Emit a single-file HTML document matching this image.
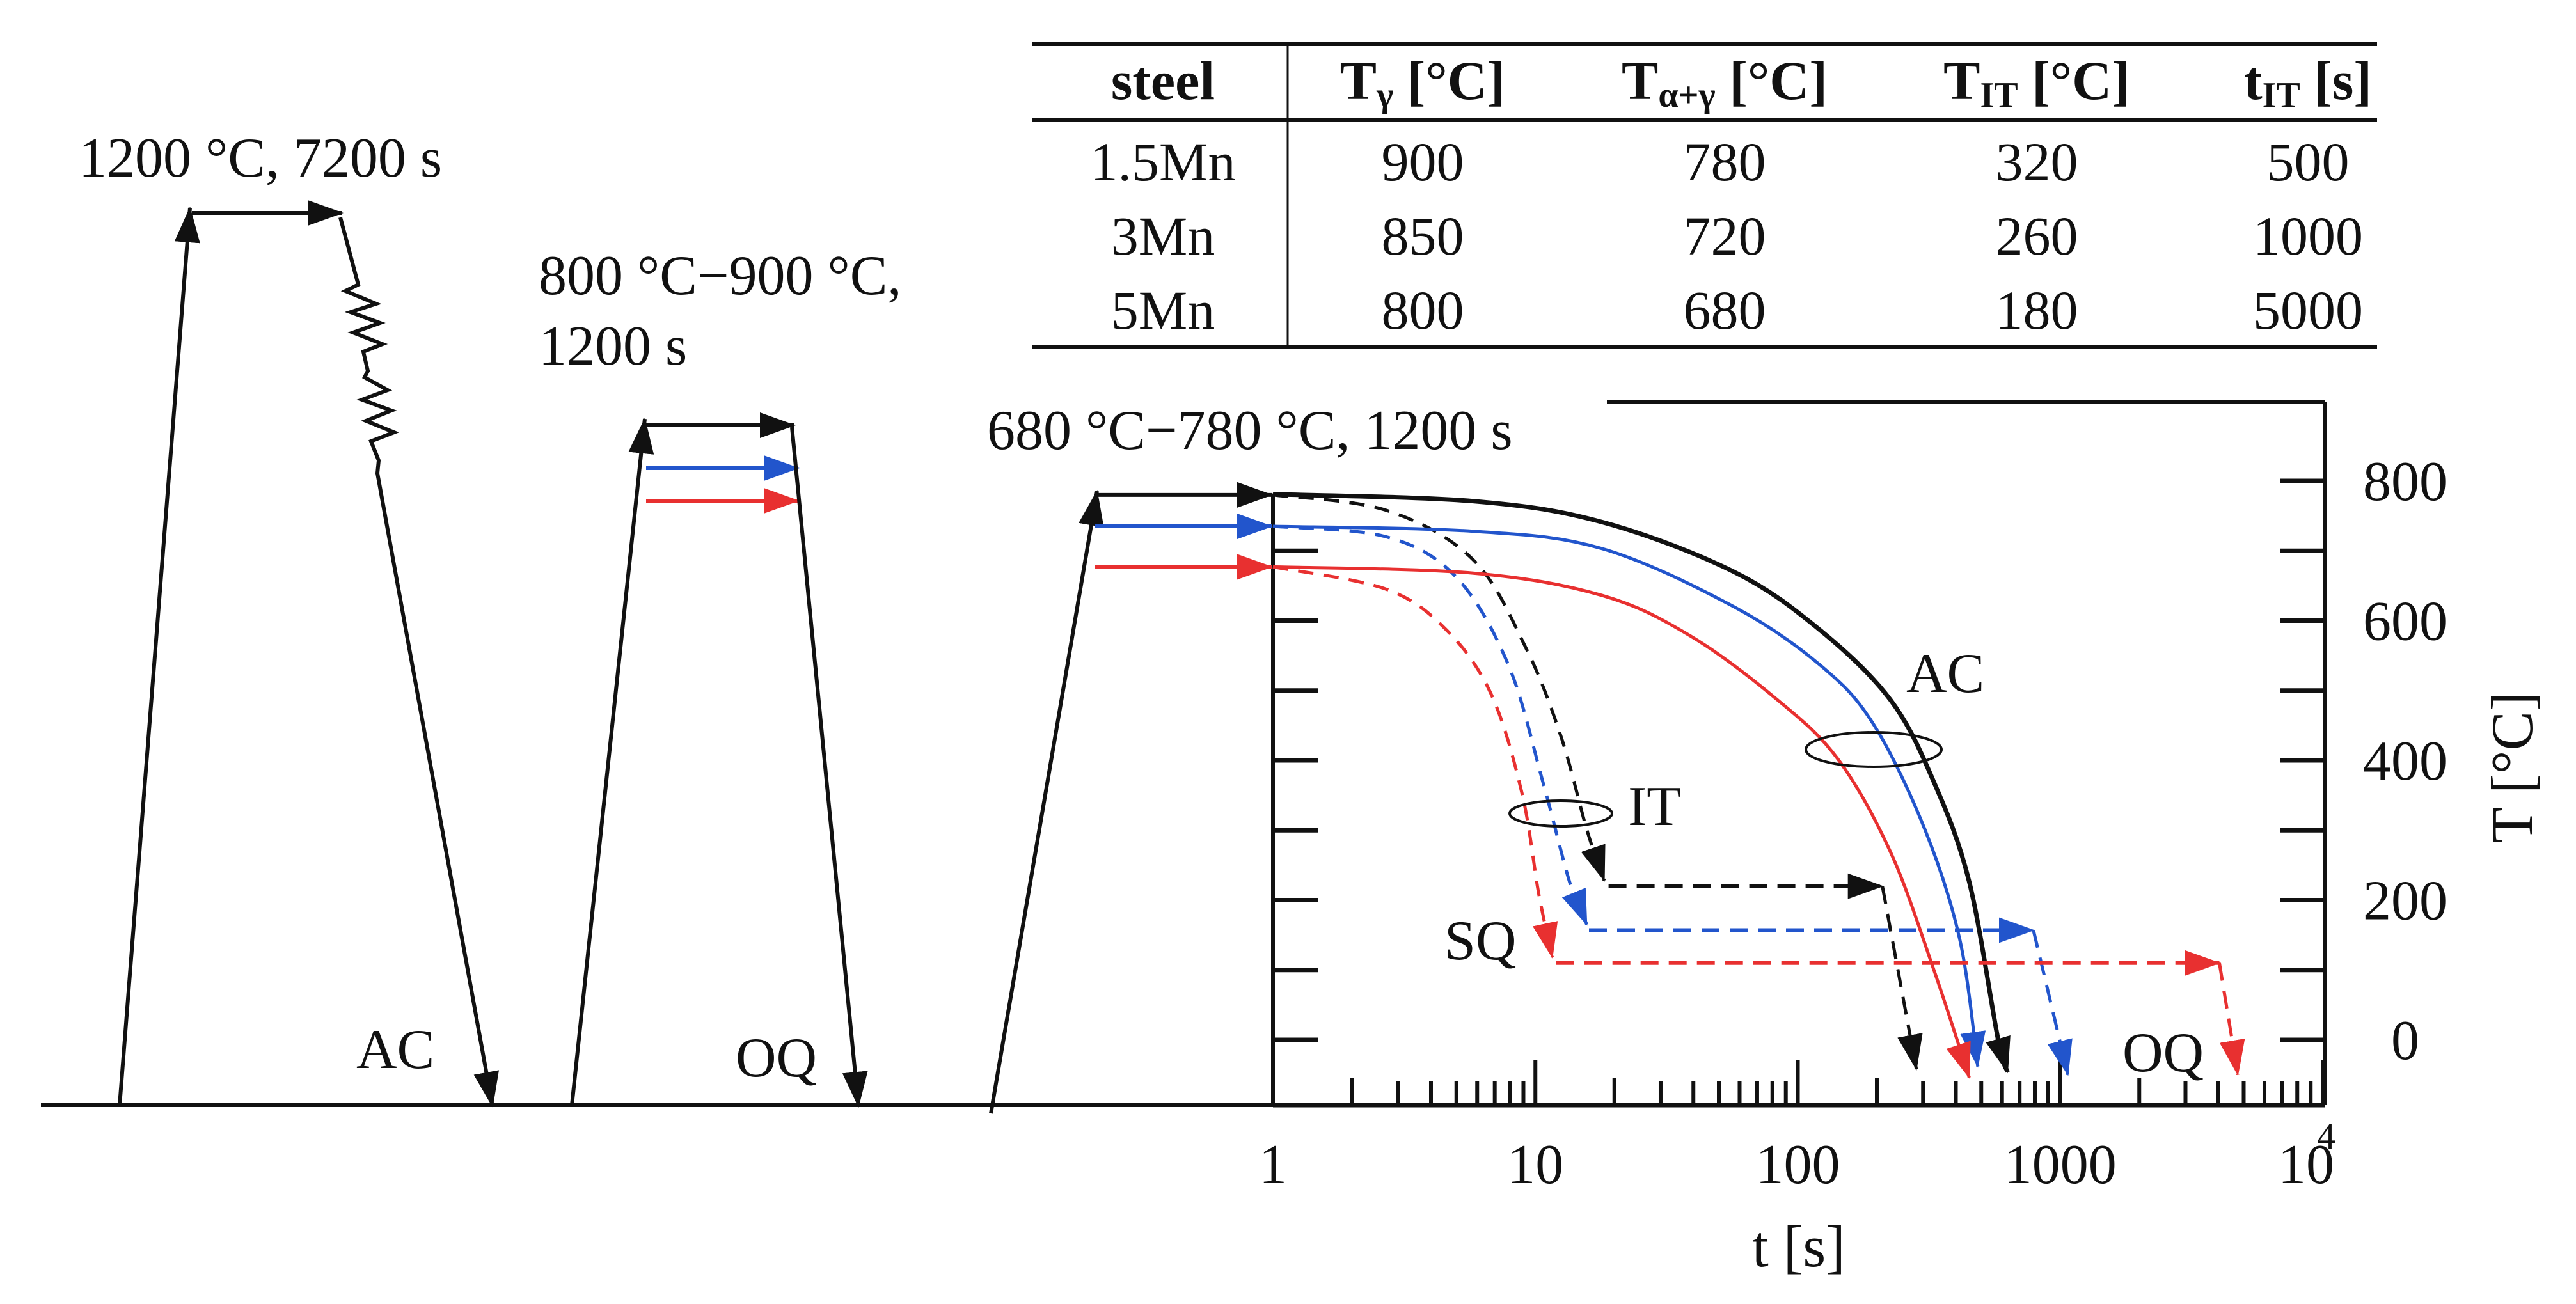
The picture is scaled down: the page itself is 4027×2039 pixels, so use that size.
<!DOCTYPE html>
<html><head><meta charset="utf-8"><style>
html,body{margin:0;padding:0;background:#fff;}
svg{display:block;font-family:"Liberation Serif",serif;}
</style></head><body>
<svg id="fig" width="4027" height="2039" viewBox="0 0 4027 2039" xmlns="http://www.w3.org/2000/svg">
<defs>
<marker id="ak" viewBox="0 0 56 40" refX="54" refY="20" markerWidth="56" markerHeight="40" markerUnits="userSpaceOnUse" orient="auto"><path d="M0,0 L56,20 L0,40 z" fill="#111"/></marker>
<marker id="ab" viewBox="0 0 56 40" refX="54" refY="20" markerWidth="56" markerHeight="40" markerUnits="userSpaceOnUse" orient="auto"><path d="M0,0 L56,20 L0,40 z" fill="#2255cc"/></marker>
<marker id="ar" viewBox="0 0 56 40" refX="54" refY="20" markerWidth="56" markerHeight="40" markerUnits="userSpaceOnUse" orient="auto"><path d="M0,0 L56,20 L0,40 z" fill="#e83030"/></marker>
</defs>
<g id="table" font-size="86" text-anchor="middle" fill="#111">
<line x1="1613" y1="69" x2="3716" y2="69" stroke="#111" stroke-width="6"/>
<line x1="1613" y1="187" x2="3716" y2="187" stroke="#111" stroke-width="6"/>
<line x1="1613" y1="542" x2="3716" y2="542" stroke="#111" stroke-width="6"/>
<line x1="2013" y1="69" x2="2013" y2="542" stroke="#111" stroke-width="3"/>
<g font-weight="bold">
<text x="1818" y="155">steel</text>
<text x="2224" y="155">T<tspan font-size="56" dy="12">γ</tspan><tspan dy="-12"> [°C]</tspan></text>
<text x="2696" y="155">T<tspan font-size="56" dy="12">α+γ</tspan><tspan dy="-12"> [°C]</tspan></text>
<text x="3184" y="155">T<tspan font-size="56" dy="12">IT</tspan><tspan dy="-12"> [°C]</tspan></text>
<text x="3608" y="155">t<tspan font-size="56" dy="12">IT</tspan><tspan dy="-12"> [s]</tspan></text>
</g>
<g><text x="1818" y="282">1.5Mn</text><text x="2224" y="282">900</text><text x="2696" y="282">780</text><text x="3184" y="282">320</text><text x="3608" y="282">500</text></g>
<g><text x="1818" y="398">3Mn</text><text x="2224" y="398">850</text><text x="2696" y="398">720</text><text x="3184" y="398">260</text><text x="3608" y="398">1000</text></g>
<g><text x="1818" y="514">5Mn</text><text x="2224" y="514">800</text><text x="2696" y="514">680</text><text x="3184" y="514">180</text><text x="3608" y="514">5000</text></g>
</g>

<g stroke="#111" stroke-width="6" fill="none">
<line x1="64" y1="1728" x2="1990" y2="1728"/>
<polyline points="187,1728 297,325" marker-end="url(#ak)"/>
<polyline points="300,333 535,333" marker-end="url(#ak)"/>
<polyline points="532,340 560,445 540,455 588,475 548,488 594,505 552,520 598,538 568,550 575,580 570,590 606,610 566,625 612,642 572,658 616,676 580,690 592,720 590,740 770,1730" stroke-linejoin="miter" marker-end="url(#ak)"/>
<polyline points="894,1728 1008,655" marker-end="url(#ak)"/>
<polyline points="1010,665 1242,665" marker-end="url(#ak)"/>
<polyline points="1010,732 1248,732" stroke="#2255cc" marker-end="url(#ab)"/>
<polyline points="1010,783 1248,783" stroke="#e83030" marker-end="url(#ar)"/>
<polyline points="1238,668 1342,1730" marker-end="url(#ak)"/>
<polyline points="1549,1741 1715,768" marker-end="url(#ak)"/>
</g>
<g font-size="88" fill="#111">
<text x="123" y="276">1200 °C, 7200 s</text>
<text x="842" y="460">800 °C−900 °C,</text>
<text x="842" y="570">1200 s</text>
<text x="1543" y="702">680 °C−780 °C, 1200 s</text>
<text x="557" y="1670">AC</text>
<text x="1150" y="1683">OQ</text>
</g>
<g id="chart"></g>
</svg>
<script>
// data
const holdTemps = [780, 735, 677];
const colors = ["#111", "#2255cc", "#e83030"];
const acBlackT = [1,5.8,18,57,122,226,330,450,580,630];
const acBlackV = [781,771,741,670,586,486,369,226,0,-46];
const acBlueT = [1,5.8,18,57,122,194,305,415,485];
const acBlueV = [735,728,703,620,536,452,301,142,-38];
const acRedT = [1,5.8,18,39,84,142,226,330,450];
const acRedV = [677,668,636,578,486,402,268,100,-54];
const sqBlackT = [1,2.7,5.8,9.2,12.5,15.7,18.3];
const sqBlackV = [780,758,687,561,435,301,228];
const sqBlueT = [1,2.7,5,7.9,10.7,13.5,15.7];
const sqBlueV = [735,720,662,536,368,226,165];
const sqRedT = [1,2.7,4.6,6.8,8.9,10.3,11.6];
const sqRedV = [677,645,586,494,352,209,118];
const itTemp = [220, 157, 110];
const itStart = [19, 16, 12];
const itEnd = [210, 790, 4040];
const oqEnd = [283, 1070, 4750];
const oqEndV = [-42, -50, -50];
const yTicks = [0,100,200,300,400,500,600,700,800];
const yTickLabels = ["0","200","400","600","800"];
const xDecades = [1,10,100,1000,10000];
const xTickLabels = ["1","10","100","1000","10"];

const X0 = 1990, DEC = 410.25, Y0 = 1626, YS = 1.0925;
const sx = t => X0 + Math.log10(t) * DEC;
const sy = v => Y0 - v * YS;
const NS = "http://www.w3.org/2000/svg";
const g = document.getElementById("chart");
function mk(tag, attrs, parent) {
  const e = document.createElementNS(NS, tag);
  for (const k in attrs) e.setAttribute(k, attrs[k]);
  (parent || g).appendChild(e);
  return e;
}
const mkr = ["url(#ak)","url(#ab)","url(#ar)"];
const names = ["black","blue","red"];
let e;
e = mk("line",{x1:X0,y1:1728,x2:3634,y2:1728,stroke:"#111","stroke-width":7});


e = mk("line",{x1:X0,y1:sy(782),x2:X0,y2:1728,stroke:"#111","stroke-width":6});


e = mk("line",{x1:3634,y1:629,x2:3634,y2:1728,stroke:"#111","stroke-width":6});


e = mk("line",{x1:2512,y1:629,x2:3634,y2:629,stroke:"#111","stroke-width":6});


yTicks.forEach(v => {
  e = mk("line",{x1:3564,y1:sy(v),x2:3634,y2:sy(v),stroke:"#111","stroke-width":7});
  
  
  if (v < 800) {
    e = mk("line",{x1:X0,y1:sy(v),x2:X0+70,y2:sy(v),stroke:"#111","stroke-width":7});
    
    
  }
});
yTickLabels.forEach(l => {
  e = mk("text",{x:3760,y:sy(+l)+30,"font-size":88,"text-anchor":"middle",fill:"#111"});
  e.textContent = l;
  
  
});
for (let d = 0; d < 4; d++) {
  for (let m = 2; m <= 10; m++) {
    const t = xDecades[d] * m;
    e = mk("line",{x1:sx(t),y1:1728,x2:sx(t),y2:1728-(m===10?70:(m===2?42:38)),stroke:"#111","stroke-width":6});
    
    
  }
}
xDecades.forEach((t,i) => {
  e = mk("text",{x:sx(t)+(i===4?-26:0),y:1850,"font-size":88,"text-anchor":"middle",fill:"#111"});
  e.textContent = xTickLabels[i];
  
  
});
e = mk("text",{x:3622,y:1796,"font-size":58,fill:"#111"});
e.textContent = "4";


e = mk("text",{x:2812,y:1980,"font-size":92,"text-anchor":"middle",fill:"#111"});
e.textContent = "t [s]";


e = mk("text",{x:0,y:0,"font-size":92,"text-anchor":"middle",fill:"#111",transform:"translate(3958,1200) rotate(-90)"});
e.textContent = "T [°C]";



holdTemps.forEach((v,i) => {
  e = mk("line",{x1:1712,y1:sy(v),x2:1988,y2:sy(v),stroke:colors[i],"stroke-width":6,"marker-end":mkr[i]});
  
  
});
function path(ts, vs) {
  return ts.map((t,i)=>(i?"L":"M")+sx(t).toFixed(1)+","+sy(vs[i]).toFixed(1)).join(" ");
}
function smooth(ts, vs) {
  const p = ts.map((t,i)=>[sx(t), sy(vs[i])]);
  let d = "M"+p[0][0]+","+p[0][1];
  for (let i=0;i<p.length-1;i++){
    const p0=p[i-1]||p[i], p1=p[i], p2=p[i+1], p3=p[i+2]||p2;
    const c1=[p1[0]+(p2[0]-p0[0])/6, p1[1]+(p2[1]-p0[1])/6];
    const c2=[p2[0]-(p3[0]-p1[0])/6, p2[1]-(p3[1]-p1[1])/6];
    d+=` C${c1[0].toFixed(1)},${c1[1].toFixed(1)} ${c2[0].toFixed(1)},${c2[1].toFixed(1)} ${p2[0].toFixed(1)},${p2[1].toFixed(1)}`;
  }
  return d;
}
const acT=[acBlackT,acBlueT,acRedT], acV=[acBlackV,acBlueV,acRedV];
const sqT=[sqBlackT,sqBlueT,sqRedT], sqV=[sqBlackV,sqBlueV,sqRedV];
for (let i=0;i<3;i++){
  e = mk("path",{d:smooth(acT[i],acV[i]),fill:"none",stroke:colors[i],"stroke-width":i===0?7:5,"marker-end":mkr[i]});
  
  
  e = mk("path",{d:smooth(sqT[i],sqV[i]),fill:"none",stroke:colors[i],"stroke-width":5,"stroke-dasharray":"24 16","marker-end":mkr[i]});
  
  
  e = mk("path",{d:path([itStart[i],itEnd[i]],[itTemp[i],itTemp[i]]),fill:"none",stroke:colors[i],"stroke-width":6,"stroke-dasharray":"28 16","marker-end":mkr[i]});
  
  
  e = mk("path",{d:path([itEnd[i],oqEnd[i]],[itTemp[i],oqEndV[i]]),fill:"none",stroke:colors[i],"stroke-width":5,"stroke-dasharray":"28 16","marker-end":mkr[i]});
  
  
}
e = mk("ellipse",{cx:2929,cy:1172,rx:106,ry:27,fill:"none",stroke:"#111","stroke-width":4});


e = mk("ellipse",{cx:2440,cy:1272,rx:80,ry:20,fill:"none",stroke:"#111","stroke-width":4});


[["AC",2980,1082,"ac-label"],["IT",2545,1290,"it-label"],["SQ",2258,1500,"sq-label"],["OQ",3318,1675,"oq-label"]].forEach(a=>{
  e = mk("text",{x:a[1],y:a[2],"font-size":88,fill:"#111"});
  e.textContent = a[0];
  
  
});
</script>
</body></html>
